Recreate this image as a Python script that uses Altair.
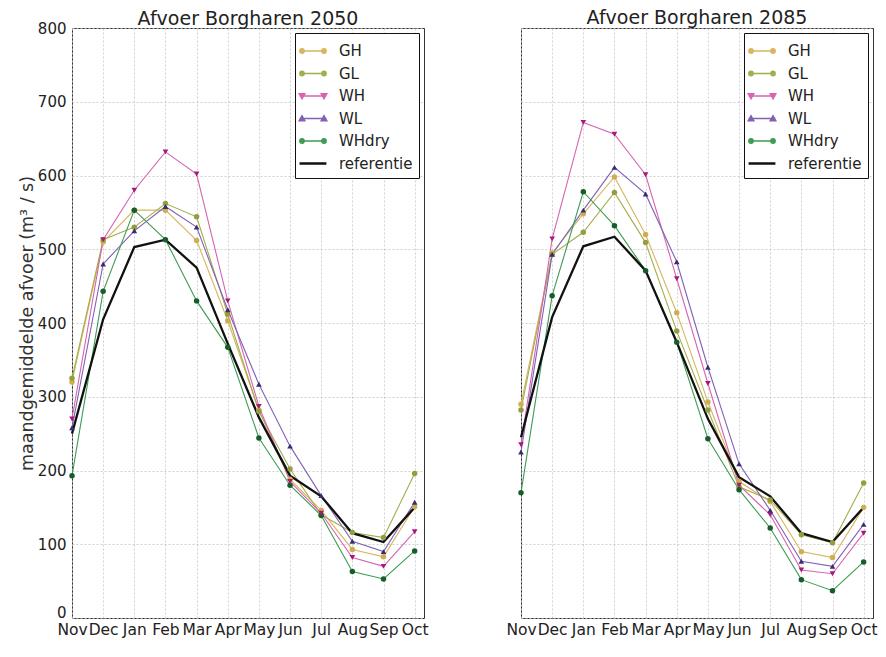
import altair as alt
import pandas as pd

months = ["Nov", "Dec", "Jan", "Feb", "Mar", "Apr", "May", "Jun", "Jul", "Aug", "Sep", "Oct"]
series_names = ["GH", "GL", "WH", "WL", "WHdry", "referentie"]

# Afvoer Borgharen 2050 (m3/s)
gh_2050 = [320, 510, 553, 553, 512, 403, 282, 188, 146, 93, 83, 151]
gl_2050 = [325, 513, 530, 562, 544, 412, 280, 202, 140, 116, 109, 196]
wh_2050 = [270, 513, 580, 632, 602, 430, 287, 185, 142, 82, 70, 117]
wl_2050 = [258, 480, 525, 558, 530, 418, 317, 233, 166, 104, 90, 157]
whdry_2050 = [193, 443, 553, 513, 430, 367, 244, 180, 139, 63, 53, 91]
ref_2050 = [250, 405, 503, 513, 475, 372, 272, 193, 165, 115, 103, 150]

# Afvoer Borgharen 2085 (m3/s)
gh_2085 = [290, 495, 548, 598, 520, 414, 293, 185, 158, 90, 82, 150]
gl_2085 = [282, 493, 523, 577, 509, 389, 282, 178, 160, 113, 102, 183]
wh_2085 = [235, 514, 672, 656, 601, 460, 318, 180, 140, 65, 60, 115]
wl_2085 = [225, 493, 553, 611, 575, 483, 340, 209, 146, 77, 70, 127]
whdry_2085 = [170, 437, 578, 532, 471, 374, 243, 174, 122, 52, 37, 76]
ref_2085 = [245, 408, 504, 517, 471, 374, 270, 191, 165, 115, 103, 150]

y_ticks = [0, 100, 200, 300, 400, 500, 600, 700, 800]

line_colors = ["#d8b55e", "#a3ad4c", "#d763b2", "#8062b4", "#3c9c52", "#111111"]
marker_colors = ["#cfae52", "#939f3e", "#a8187c", "#3a2c6e", "#175c2a", "#111111"]

FONT = "DejaVu Sans"


def circle(cx, r):
    return f"M{cx - r:.3f},0a{r},{r} 0 1,0 {2 * r},0a{r},{r} 0 1,0 {-2 * r},0"


def tri(cx, s, down):
    d = 1 if down else -1
    return (f"M{cx - s:.3f},{-d * s * 0.8:.3f}L{cx + s:.3f},{-d * s * 0.8:.3f}"
            f"L{cx:.3f},{d * s:.3f}Z")


L = 1.22
C = 1.0
base_line = f"M{-L},0L{L},0"
circ_path = base_line + "".join(circle(c, r) for c in (-C, C) for r in (0.2, 0.08))
tdown_path = base_line + "".join(tri(c, s, True) for c in (-C, C) for s in (0.26, 0.1))
tup_path = base_line + "".join(tri(c, s, False) for c in (-C, C) for s in (0.26, 0.1))
ref_path = f"M{-L},-0.05L{L},-0.05M{-L},0.05L{L},0.05"
legend_paths = [circ_path, circ_path, tdown_path, tup_path, circ_path, ref_path]

# reversed domains for the unlisted stroke/fill scales so that their (hidden)
# legends are not merged with the visible one
rev_names = series_names[::-1]
rev_line_colors = line_colors[::-1]
rev_marker_colors = marker_colors[::-1]


def build_df(cols):
    rows = []
    for name, vals in zip(series_names, cols):
        for i, v in enumerate(vals):
            rows.append({"series": name, "idx": i, "value": v})
    return pd.DataFrame(rows)


label_expr = "[" + ",".join(f"'{m}'" for m in months) + "][datum.value]"
GRID = dict(gridColor="#c4c4c4", gridDash=[2, 2], gridWidth=0.8)


def panel(df, title, first):
    x = alt.X("idx:Q", scale=alt.Scale(domain=[0, 11.3], nice=False, zero=False),
              axis=alt.Axis(values=list(range(12)), labelExpr=label_expr, title=None,
                            grid=True, ticks=False, domain=False, labelFontSize=15.5,
                            labelPadding=4, labelFlush=False, labelOverlap=False,
                            labelColor="#222", **GRID))
    y = alt.Y("value:Q", scale=alt.Scale(domain=[0, 800], nice=False, zero=True),
              axis=alt.Axis(values=y_ticks,
                            title="maandgemiddelde afvoer (m³ / s)" if first else None,
                            labels=first, grid=True, ticks=False, domain=False,
                            labelFontSize=15, labelPadding=6, labelFlush=False,
                            labelOffset={"condition": {"test": "datum.value == 0",
                                                       "value": -6}, "value": 0},
                            labelColor="#222", titleFontSize=17.5,
                            titleFontWeight="normal", titleColor="#333", titlePadding=1,
                            **GRID))
    stroke = alt.Stroke("series:N", scale=alt.Scale(domain=rev_names, range=rev_line_colors),
                        legend=None)
    fill = alt.Fill("series:N", scale=alt.Scale(domain=rev_names, range=rev_marker_colors),
                    legend=None)
    base = alt.Chart(df)
    scen = base.transform_filter("datum.series != 'referentie'").mark_line(
        strokeWidth=1.1).encode(x=x, y=y, stroke=stroke, order="idx:Q")
    ref = base.transform_filter("datum.series == 'referentie'").mark_line(
        strokeWidth=2.3).encode(x=x, y=y, stroke=stroke, order="idx:Q")
    circles = base.transform_filter(
        "indexof(['GH','GL','WHdry'], datum.series) >= 0").mark_point(
        shape="circle", filled=True, size=30, opacity=1).encode(x=x, y=y, fill=fill)
    tdown = base.transform_filter("datum.series == 'WH'").mark_point(
        shape="triangle-down", filled=True, size=32, opacity=1).encode(x=x, y=y, fill=fill)
    tup = base.transform_filter("datum.series == 'WL'").mark_point(
        shape="triangle-up", filled=True, size=32, opacity=1).encode(x=x, y=y, fill=fill)
    leg = alt.Legend(orient="top-right", title=None, fillColor="white", strokeColor="#111",
                     padding=6, offset=5, symbolSize=484, symbolStrokeWidth=1.4,
                     labelFontSize=15, labelOffset=14, rowPadding=2.5, labelColor="#222",
                     labelFont=FONT, symbolOpacity=1)
    legend_layer = base.transform_filter("datum.idx < 0").mark_point(filled=False).encode(
        x=x, y=y,
        color=alt.Color("series:N", scale=alt.Scale(domain=series_names, range=line_colors),
                        legend=leg),
        shape=alt.Shape("series:N", scale=alt.Scale(domain=series_names, range=legend_paths),
                        legend=leg),
    )
    return alt.layer(legend_layer, scen, ref, circles, tdown, tup).properties(
        width=352, height=590,
        title=alt.TitleParams(title, fontSize=19, fontWeight="normal",
                              offset=-8 if first else 0, color="#222", font=FONT),
    )


left = panel(build_df([gh_2050, gl_2050, wh_2050, wl_2050, whdry_2050, ref_2050]),
             "Afvoer Borgharen 2050", True)
right = panel(build_df([gh_2085, gl_2085, wh_2085, wl_2085, whdry_2085, ref_2085]),
              "Afvoer Borgharen 2085", False)

chart = alt.hconcat(left, right, spacing=76).resolve_scale(
    color="independent", shape="independent", fill="independent", stroke="independent"
).resolve_legend(color="independent", shape="independent").properties(
    padding={"left": 9, "top": 0, "right": 0, "bottom": 0}
).configure(font=FONT).configure_view(stroke="#333", strokeWidth=1)

chart.save("out.html", embed_options={"renderer": "svg", "actions": False})
